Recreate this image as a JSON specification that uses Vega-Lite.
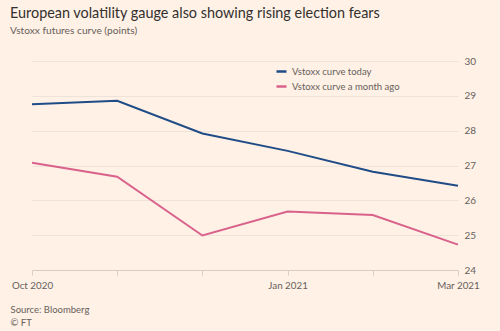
{
  "$schema": "https://vega.github.io/schema/vega-lite/v6.json",
  "width": 426,
  "height": 209,
  "autosize": {"type": "none"},
  "padding": {"left": 32, "top": 61, "right": 42, "bottom": 61},
  "background": "#FFF1E5",
  "config": {
    "view": {"stroke": null},
    "font": "Lato"
  },
  "title": {
    "text": "European volatility gauge also showing rising election fears",
    "subtitle": "Vstoxx futures curve (points)",
    "anchor": "start",
    "frame": "group",
    "dx": -22,
    "offset": 19,
    "fontSize": 14.4,
    "fontWeight": "normal",
    "color": "#33302e",
    "subtitleFontSize": 10.2,
    "subtitleColor": "#66605c",
    "subtitlePadding": 4
  },
  "data": {
    "values": [
      {"month": "Oct 2020", "series": "Vstoxx curve today", "value": 28.76},
      {"month": "Nov 2020", "series": "Vstoxx curve today", "value": 28.86},
      {"month": "Dec 2020", "series": "Vstoxx curve today", "value": 27.92},
      {"month": "Jan 2021", "series": "Vstoxx curve today", "value": 27.42},
      {"month": "Feb 2021", "series": "Vstoxx curve today", "value": 26.82},
      {"month": "Mar 2021", "series": "Vstoxx curve today", "value": 26.42},
      {"month": "Oct 2020", "series": "Vstoxx curve a month ago", "value": 27.08},
      {"month": "Nov 2020", "series": "Vstoxx curve a month ago", "value": 26.68},
      {"month": "Dec 2020", "series": "Vstoxx curve a month ago", "value": 24.99},
      {"month": "Jan 2021", "series": "Vstoxx curve a month ago", "value": 25.68},
      {"month": "Feb 2021", "series": "Vstoxx curve a month ago", "value": 25.58},
      {"month": "Mar 2021", "series": "Vstoxx curve a month ago", "value": 24.73}
    ]
  },
  "mark": {"type": "line", "strokeWidth": 2},
  "encoding": {
    "x": {
      "field": "month",
      "type": "ordinal",
      "sort": null,
      "scale": {"type": "point", "padding": 0},
      "axis": {
        "title": ["Source: Bloomberg", "© FT"],
        "titleAnchor": "start",
        "titleAlign": "left",
        "titleX": -22,
        "titleY": 34,
        "titleFontSize": 9.5,
        "titleLineHeight": 13,
        "titleFontWeight": "normal",
        "titleColor": "#66605c",
        "labelAngle": 0,
        "labelExpr": "indexof(['Oct 2020','Jan 2021','Mar 2021'], datum.value) >= 0 ? datum.value : ''",
        "labelFontSize": 9.8,
        "labelColor": "#66605c",
        "labelPadding": 5,
        "domain": false,
        "tickColor": "#d9cfc6",
        "tickSize": 5,
        "grid": false
      }
    },
    "y": {
      "field": "value",
      "type": "quantitative",
      "scale": {"domain": [24, 30], "zero": false},
      "axis": {
        "orient": "right",
        "title": null,
        "values": [24, 25, 26, 27, 28, 29, 30],
        "domain": false,
        "ticks": false,
        "labelPadding": 6,
        "labelFontSize": 10,
        "labelColor": "#66605c",
        "gridColor": {"condition": {"test": "datum.value === 24", "value": "#d6ccc3"}, "value": "#eee3d9"},
        "gridWidth": 1
      }
    },
    "color": {
      "field": "series",
      "type": "nominal",
      "scale": {
        "domain": ["Vstoxx curve today", "Vstoxx curve a month ago"],
        "range": ["#1f4c87", "#d9628c"]
      },
      "legend": {
        "title": null,
        "orient": "none",
        "legendX": 243,
        "legendY": 4,
        "symbolType": "stroke",
        "symbolStrokeWidth": 2.5,
        "symbolSize": 100,
        "labelFontSize": 9.5,
        "labelColor": "#66605c",
        "rowPadding": 3
      }
    }
  }
}
